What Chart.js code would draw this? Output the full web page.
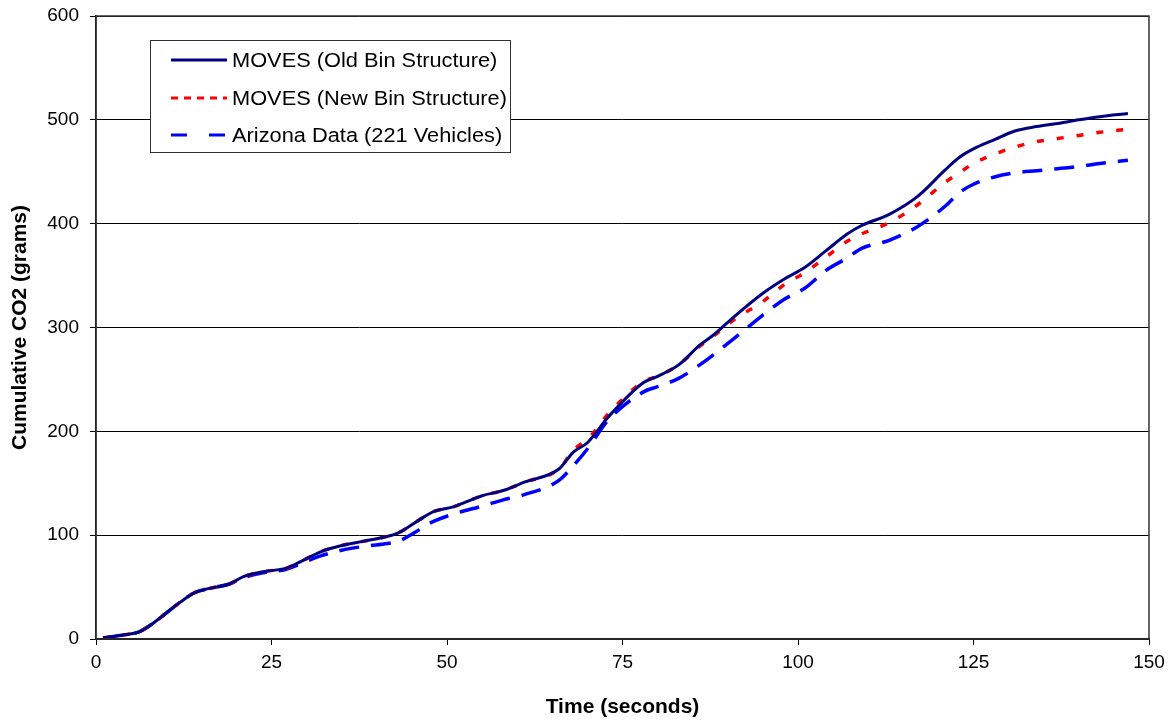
<!DOCTYPE html>
<html>
<head>
<meta charset="utf-8">
<script src="https://cdn.jsdelivr.net/npm/chart.js@4.4.0/dist/chart.umd.min.js"></script>
<style>
  html, body { margin: 0; padding: 0; background: #fff; }
  #wrap { width: 1176px; height: 726px; position: relative; }
</style>
</head>
<body>
<div id="wrap"><canvas id="co2Chart" width="1176" height="726"></canvas></div>
<script>
// time in seconds
const times = [1, 3, 5, 6, 8, 10, 12, 14, 16, 19, 21, 24, 27, 29, 32, 35, 38, 41, 43, 46, 48, 51, 55, 58, 61, 66, 68, 70, 73, 78, 80, 83, 86, 88, 91, 95, 98, 101, 104, 107, 109, 113, 117, 121, 123, 125, 128, 131, 134, 137, 140, 143, 147];

const movesOld = [1, 3, 5, 6.5, 14.5, 25, 35.5, 44.5, 48.5, 53, 60, 65, 68, 74, 84, 90, 94, 98, 102, 114.5, 122.5, 127.5, 138, 143, 151, 164, 180, 189, 214, 247, 253, 264, 283, 293, 311, 333, 346.5, 358, 374, 390, 398, 409, 426, 452, 464, 472, 481, 489.5, 493.5, 496.5, 500, 503, 506];

const movesNew = [1, 3, 5, 6.5, 14.5, 25, 35.5, 44.5, 48.5, 53, 60, 65, 68, 74, 84, 90, 94, 98, 102, 114.5, 122.5, 127.5, 138, 143, 151, 164, 182, 192, 217, 248, 253, 264, 282, 292, 308, 325, 341, 353, 368, 383, 390, 401, 418, 440, 449, 458, 467, 474, 479, 482, 485, 488, 491];

const arizona = [1, 3, 5, 6.5, 14.5, 25, 35.5, 44.5, 48.5, 53, 59, 64, 67, 72, 80, 85.5, 89, 91.5, 94, 105, 113, 120.5, 128, 134, 139, 153, 167, 183, 211, 238, 243, 251, 264, 274, 290, 312, 327, 338, 355, 367, 376, 384, 397, 417, 430, 438, 445, 449, 451, 453, 455, 458, 461];

const seriesNames = ['MOVES (Old Bin Structure)', 'MOVES (New Bin Structure)', 'Arizona Data (221 Vehicles)'];

function toPoints(vals) {
  return times.map((t, i) => ({ x: t, y: vals[i] }));
}

// frame around plot area
const frame = {
  id: 'frame',
  afterDatasetsDraw(chart) {
    const a = chart.chartArea, ctx = chart.ctx;
    ctx.save();
    ctx.strokeStyle = '#333';
    ctx.lineWidth = 1.5;
    ctx.strokeRect(a.left, a.top, a.right - a.left, a.bottom - a.top);
    ctx.restore();
  }
};

// boxed legend inside the plot
const boxLegend = {
  id: 'boxLegend',
  afterDraw(chart) {
    const ctx = chart.ctx;
    const styles = [
      { color: '#000080', dash: [] },
      { color: '#ff0000', dash: [7, 6] },
      { color: '#0000ff', dash: [16, 22] }
    ];
    const rows = [60, 98, 135];
    ctx.save();
    ctx.fillStyle = '#fff';
    ctx.fillRect(150.5, 40.5, 360, 112);
    ctx.strokeStyle = '#333';
    ctx.lineWidth = 1;
    ctx.strokeRect(150.5, 40.5, 360, 112);
    ctx.font = '20px "Liberation Sans", Arial, sans-serif';
    ctx.textBaseline = 'middle';
    rows.forEach((y, i) => {
      ctx.strokeStyle = styles[i].color;
      ctx.lineWidth = 3;
      ctx.setLineDash(styles[i].dash);
      ctx.beginPath();
      ctx.moveTo(171, y);
      ctx.lineTo(227, y);
      ctx.stroke();
      ctx.setLineDash([]);
      ctx.fillStyle = '#000';
      ctx.save();
      ctx.translate(232, y + 1);
      ctx.scale(1.09, 1);
      ctx.fillText(seriesNames[i], 0, 0);
      ctx.restore();
    });
    ctx.restore();
  }
};

const tickFont = { family: '"Liberation Sans", Arial, sans-serif', size: 19 };
const titleFont = { family: '"Liberation Sans", Arial, sans-serif', size: 21, weight: 'bold' };

new Chart(document.getElementById('co2Chart'), {
  type: 'line',
  data: {
    datasets: [
      {
        label: seriesNames[0],
        data: toPoints(movesOld),
        borderColor: '#000080',
        borderWidth: 3,
        pointRadius: 0,
        cubicInterpolationMode: 'monotone'
      },
      {
        label: seriesNames[1],
        data: toPoints(movesNew),
        borderColor: '#ff0000',
        borderWidth: 3.5,
        borderDash: [7, 13],
        pointRadius: 0,
        cubicInterpolationMode: 'monotone'
      },
      {
        label: seriesNames[2],
        data: toPoints(arizona),
        borderColor: '#0000ff',
        borderWidth: 3.5,
        borderDash: [20, 12],
        pointRadius: 0,
        cubicInterpolationMode: 'monotone'
      }
    ]
  },
  options: {
    responsive: false,
    animation: false,
    layout: { padding: { top: 16, right: 27, left: 0, bottom: 0 } },
    plugins: {
      legend: { display: false },
      tooltip: { enabled: false }
    },
    scales: {
      x: {
        type: 'linear',
        min: 0,
        max: 150,
        ticks: { stepSize: 25, color: '#000', font: tickFont, padding: 6, maxRotation: 0 },
        grid: { drawOnChartArea: false, drawTicks: true, tickLength: 6, color: '#000' },
        border: { color: '#000', width: 1.5 },
        title: { display: true, text: 'Time (seconds)', color: '#000', font: titleFont, padding: { top: 0, bottom: 6 } },
        afterFit(scale) { scale.height = 87; scale.paddingRight = 0; scale.paddingLeft = 0; }
      },
      y: {
        min: 0,
        max: 600,
        ticks: { stepSize: 100, color: '#000', font: tickFont, padding: 11 },
        grid: { color: '#000', lineWidth: 1, tickLength: 6 },
        border: { color: '#000', width: 1.5 },
        title: { display: true, text: 'Cumulative CO2 (grams)', color: '#000', font: titleFont, padding: { top: 8, bottom: 0 } },
        afterFit(scale) { scale.width = 96; scale.paddingTop = 0; scale.paddingBottom = 0; }
      }
    }
  },
  plugins: [frame, boxLegend]
});
</script>
</body>
</html>
